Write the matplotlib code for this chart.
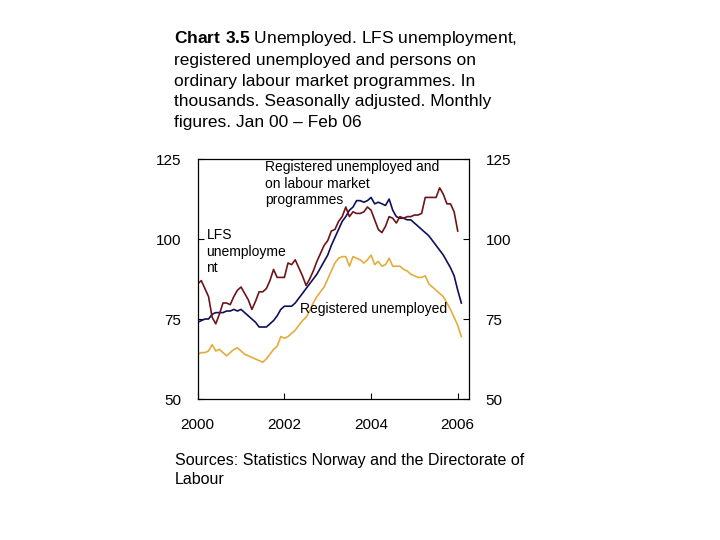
import numpy as np
import matplotlib
matplotlib.use('Agg')
from matplotlib import pyplot as plt

plt.rcParams['font.family'] = ['Liberation Sans', 'DejaVu Sans']
plt.rcParams['mathtext.fontset'] = 'custom'
plt.rcParams['mathtext.rm'] = 'Liberation Sans'
plt.rcParams['mathtext.bf'] = 'Liberation Sans:bold'

# monthly figures, Jan 2000 - Feb 2006 (thousands)
reg_and_prog = [74, 74.5, 75, 75, 76.5, 77, 77, 77, 77.5, 77.5, 78, 77.5,
                78, 77, 76, 75, 74, 72.5, 72.5, 72.5, 73.5, 74.5, 76, 78,
                79, 79, 79, 80, 81.5, 83, 84.5, 86, 87.5, 89, 91, 93,
                95, 98, 100.5, 103, 105.5, 107, 109, 110, 112, 112, 111.5, 112,
                113, 111, 111.5, 111, 110.5, 112.5, 109, 107, 106.5, 106.5, 106, 106,
                105, 104, 103, 102, 101, 99.5, 98, 96.5, 95, 93, 91, 88.5,
                84, 80]
lfs = [86, 87, 84.5, 82, 75.5, 73.5, 76.5, 80, 80, 79.5, 82, 84,
       85, 83, 81, 78, 80.5, 83.5, 83.5, 84.5, 87, 90.5, 88, 88,
       88, 92.5, 92, 93.5, 91, 88.5, 85.5, 87.5, 90, 93, 95.5, 98,
       99.5, 102.5, 103, 105.5, 107, 110, 107, 108.5, 108, 108, 108.5, 110,
       109, 106, 103, 102, 104, 107, 106.5, 105, 107, 106.5, 107, 107,
       107.5, 107.5, 108, 113, 113, 113, 113, 116, 114, 111, 111, 108.5,
       102.5]
registered = [64, 64.5, 64.5, 65, 67, 65, 65.5, 64.5, 63.5, 64.5, 65.5, 66,
              65, 64, 63.5, 63, 62.5, 62, 61.5, 62.5, 64, 65.5, 66.5, 69.5,
              69, 69.5, 70.5, 71.5, 73, 74.5, 75.5, 77.5, 80, 82, 83.5, 85,
              87.5, 90, 92.5, 94, 94.5, 94.5, 91.5, 94.5, 94, 93.5, 92.5, 93.5,
              95, 92, 93, 91.5, 92, 94, 91.5, 91.5, 91.5, 90.5, 90, 89,
              88.5, 88, 88, 88.5, 86, 85, 84, 83, 82, 80, 78, 75.5,
              73, 69.5]

x_ticks = [2000, 2002, 2004, 2006]
y_ticks = [50, 75, 100, 125]

t_reg = 2000 + np.arange(len(reg_and_prog)) / 12
t_lfs = 2000 + np.arange(len(lfs)) / 12
t_r = 2000 + np.arange(len(registered)) / 12

fig = plt.figure(figsize=(7.2, 5.4), dpi=100)
ax = fig.add_axes([0.2746, 0.2611, 0.3768, 0.4444])

ax.plot(t_r, registered, color='#e3ad3c', lw=1.2)
ax.plot(t_reg, reg_and_prog, color='#10105a', lw=1.2)
ax.plot(t_lfs, lfs, color='#6e1418', lw=1.2)

ax.set_xlim(2000, 2006.26)
ax.set_ylim(50, 125)
ax.set_xticks(x_ticks)
ax.set_yticks(y_ticks)
ax.tick_params(direction='in', length=4, labelsize=11)
ax.tick_params(axis='y', left=True, right=True, labelleft=True, labelright=True, pad=12)
ax.tick_params(axis='x', pad=14)
for s in ax.spines.values():
    s.set_linewidth(0.9)

ax.text(2001.55, 124.6, 'Registered unemployed and\non labour market\nprogrammes',
        fontsize=10, va='top', ha='left', linespacing=1.2)
ax.text(2000.2, 103.5, 'LFS\nunemployme\nnt', fontsize=10, va='top', ha='left',
        linespacing=1.25)
ax.text(2002.35, 78, 'Registered unemployed', fontsize=10, va='center', ha='left')

fig.text(174/720, 1 - 29/540,
         r'$\bf{Chart\ 3.5}$ Unemployed. LFS unemployment,' + '\n'
         'registered unemployed and persons on\n'
         'ordinary labour market programmes. In\n'
         'thousands. Seasonally adjusted. Monthly\n'
         'figures. Jan 00 – Feb 06',
         fontsize=12.5, va='top', ha='left', linespacing=1.45)

fig.text(175/720, 1 - 453/540, 'Sources: Statistics Norway and the Directorate of\nLabour',
         fontsize=11.5, va='top', ha='left', linespacing=1.3)

fig.savefig('out.png', dpi=100)
